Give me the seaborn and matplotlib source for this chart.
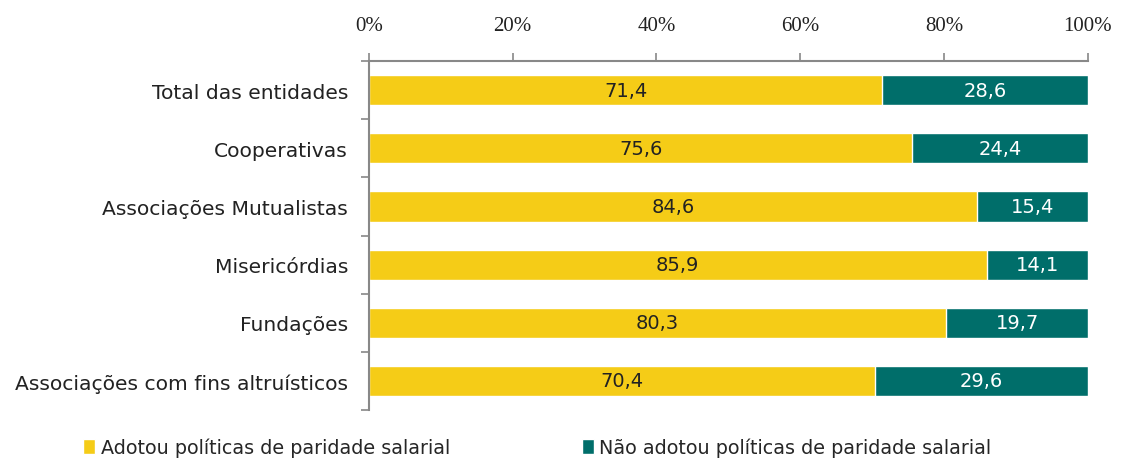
import matplotlib
matplotlib.use("Agg")
import matplotlib.pyplot as plt
import seaborn as sns
import pandas as pd
from matplotlib.ticker import FixedLocator

# dados
categorias = ["Total das entidades", "Cooperativas", "Associações Mutualistas",
              "Misericórdias", "Fundações", "Associações com fins altruísticos"]
adotou = [71.4, 75.6, 84.6, 85.9, 80.3, 70.4]
nao_adotou = [28.6, 24.4, 15.4, 14.1, 19.7, 29.6]
serie_adotou = "Adotou políticas de paridade salarial"
serie_nao = "Não adotou políticas de paridade salarial"

cor_amarelo = "#F5CC17"
cor_verde = "#006E6A"

df = pd.DataFrame({"categoria": categorias, "adotou": adotou, "nao": nao_adotou})
df["total"] = df["adotou"] + df["nao"]

sns.set_style("white")
plt.rcParams["font.family"] = ["DejaVu Sans"]

fig = plt.figure(figsize=(11.21, 4.6), dpi=100)
ax = fig.add_axes([0.329, 0.1065, 0.6415, 0.7585])

# barra total (verde) e por cima a parte amarela
sns.barplot(data=df, y="categoria", x="total", color=cor_verde, orient="h",
            width=0.52, ax=ax, label=serie_nao, saturation=1)
sns.barplot(data=df, y="categoria", x="adotou", color=cor_amarelo, orient="h",
            width=0.52, ax=ax, label=serie_adotou, saturation=1)

cont_verde, cont_amarelo = ax.containers[0], ax.containers[1]
ax.bar_label(cont_amarelo, labels=[f"{v:.1f}".replace(".", ",") for v in adotou],
             label_type="center", fontsize=14, color="#222222")
# rótulos da parte verde, no centro do segmento
for barra, a, n in zip(cont_verde, adotou, nao_adotou):
    y = barra.get_y() + barra.get_height() / 2
    ax.text(a + n / 2, y, f"{n:.1f}".replace(".", ","), ha="center", va="center",
            fontsize=14, color="white")

ax.set_xlim(0, 100)
ax.set_ylim(5.5, -0.5)
ax.xaxis.tick_top()
ax.set_xticks([0, 20, 40, 60, 80, 100])
ax.set_xticklabels(["0%", "20%", "40%", "60%", "80%", "100%"],
                   family="Liberation Serif", fontsize=15, color="#222222")
ax.tick_params(axis="x", which="major", direction="out", length=6, width=1.2,
               color="#888888", pad=13)
ax.set_xlabel("")
ax.set_ylabel("")
ax.tick_params(axis="y", which="major", length=0, pad=15, labelsize=14.6,
               labelcolor="#222222")
ax.yaxis.set_minor_locator(FixedLocator([i + 0.5 for i in range(-1, 6)]))
ax.tick_params(axis="y", which="minor", direction="out", length=6, width=1.2,
               color="#888888", left=True)

for lado in ["bottom", "right"]:
    ax.spines[lado].set_visible(False)
for lado in ["top", "left"]:
    ax.spines[lado].set_color("#888888")
    ax.spines[lado].set_linewidth(1.5)

handles, labels = ax.get_legend_handles_labels()
ordem = [labels.index(serie_adotou), labels.index(serie_nao)]
if ax.get_legend():
    ax.get_legend().remove()
fig.legend([handles[i] for i in ordem], [labels[i] for i in ordem],
           loc="lower left", bbox_to_anchor=(0.059, -0.034), ncol=2, frameon=False,
           handlelength=0.6, handleheight=0.8, handletextpad=0.3,
           columnspacing=6.9, fontsize=13.8)

fig.savefig("out.png", dpi=100)
